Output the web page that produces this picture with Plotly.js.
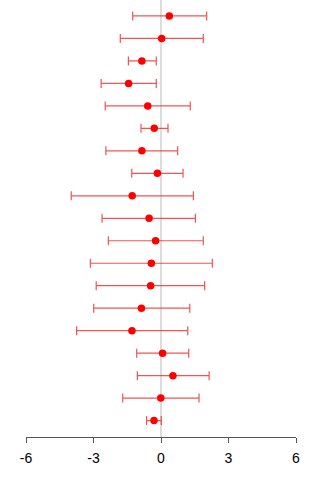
<!DOCTYPE html>
<html>
<head>
<meta charset="utf-8">
<script src="https://cdn.plot.ly/plotly-3.0.1.min.js"></script>
<style>
  html, body { margin: 0; padding: 0; background: #fff; }
  #plot { width: 320px; height: 480px; }
</style>
</head>
<body>
<div id="plot"></div>
<script>
// Study estimates with lower / upper interval bounds, listed top to bottom
const estimate = [0.37, 0.03, -0.85, -1.44, -0.59, -0.30, -0.85, -0.16, -1.28, -0.53,
                  -0.24, -0.43, -0.46, -0.87, -1.29, 0.07, 0.53, -0.01, -0.31];
const lower    = [-1.26, -1.81, -1.45, -2.66, -2.48, -0.89, -2.45, -1.30, -3.99, -2.62,
                  -2.34, -3.14, -2.88, -2.99, -3.75, -1.08, -1.05, -1.70, -0.64];
const upper    = [2.03, 1.88, -0.21, -0.21, 1.30, 0.31, 0.74, 0.98, 1.44, 1.53,
                  1.88, 2.28, 1.94, 1.28, 1.19, 1.23, 2.14, 1.69, 0.01];
const xTicks   = [-6, -3, 0, 3, 6];
const xTickText = ['-6', '-3', '0', '3', '6'];

// Row positions: first study at the top
const n = estimate.length;
const rows = estimate.map((_, i) => n - i);

const trace = {
  type: 'scatter',
  mode: 'markers',
  x: estimate,
  y: rows,
  marker: { color: '#ff0000', size: 7.5 },
  error_x: {
    type: 'data',
    symmetric: false,
    array: upper.map((u, i) => u - estimate[i]),
    arrayminus: estimate.map((e, i) => e - lower[i]),
    color: 'rgba(240,40,40,0.8)',
    thickness: 1.2,
    width: 4.5
  },
  hoverinfo: 'x',
  cliponaxis: false
};

const layout = {
  width: 320,
  height: 480,
  margin: { l: 26, r: 24, t: 0, b: 43 },
  paper_bgcolor: '#ffffff',
  plot_bgcolor: '#ffffff',
  showlegend: false,
  font: { family: 'Liberation Sans, Arial, sans-serif', color: '#000' },
  xaxis: {
    range: [-6, 6],
    tickvals: xTicks,
    ticktext: xTickText,
    ticks: 'outside',
    ticklen: 5,
    tickwidth: 1,
    tickcolor: '#555',
    ticklabelstandoff: 3,
    showline: true,
    linecolor: '#555',
    linewidth: 1,
    showgrid: false,
    zeroline: false,
    tickfont: { size: 14, color: '#000' },
    fixedrange: true
  },
  yaxis: {
    range: [0.27, n + 0.71],
    visible: false,
    showgrid: false,
    zeroline: false,
    fixedrange: true
  },
  shapes: [{
    type: 'line',
    layer: 'below',
    xref: 'x', yref: 'paper',
    x0: 0, x1: 0, y0: 0, y1: 1,
    line: { color: '#dcdcdc', width: 2 }
  }]
};

Plotly.newPlot('plot', [trace], layout, { staticPlot: true, displayModeBar: false });
</script>
</body>
</html>
